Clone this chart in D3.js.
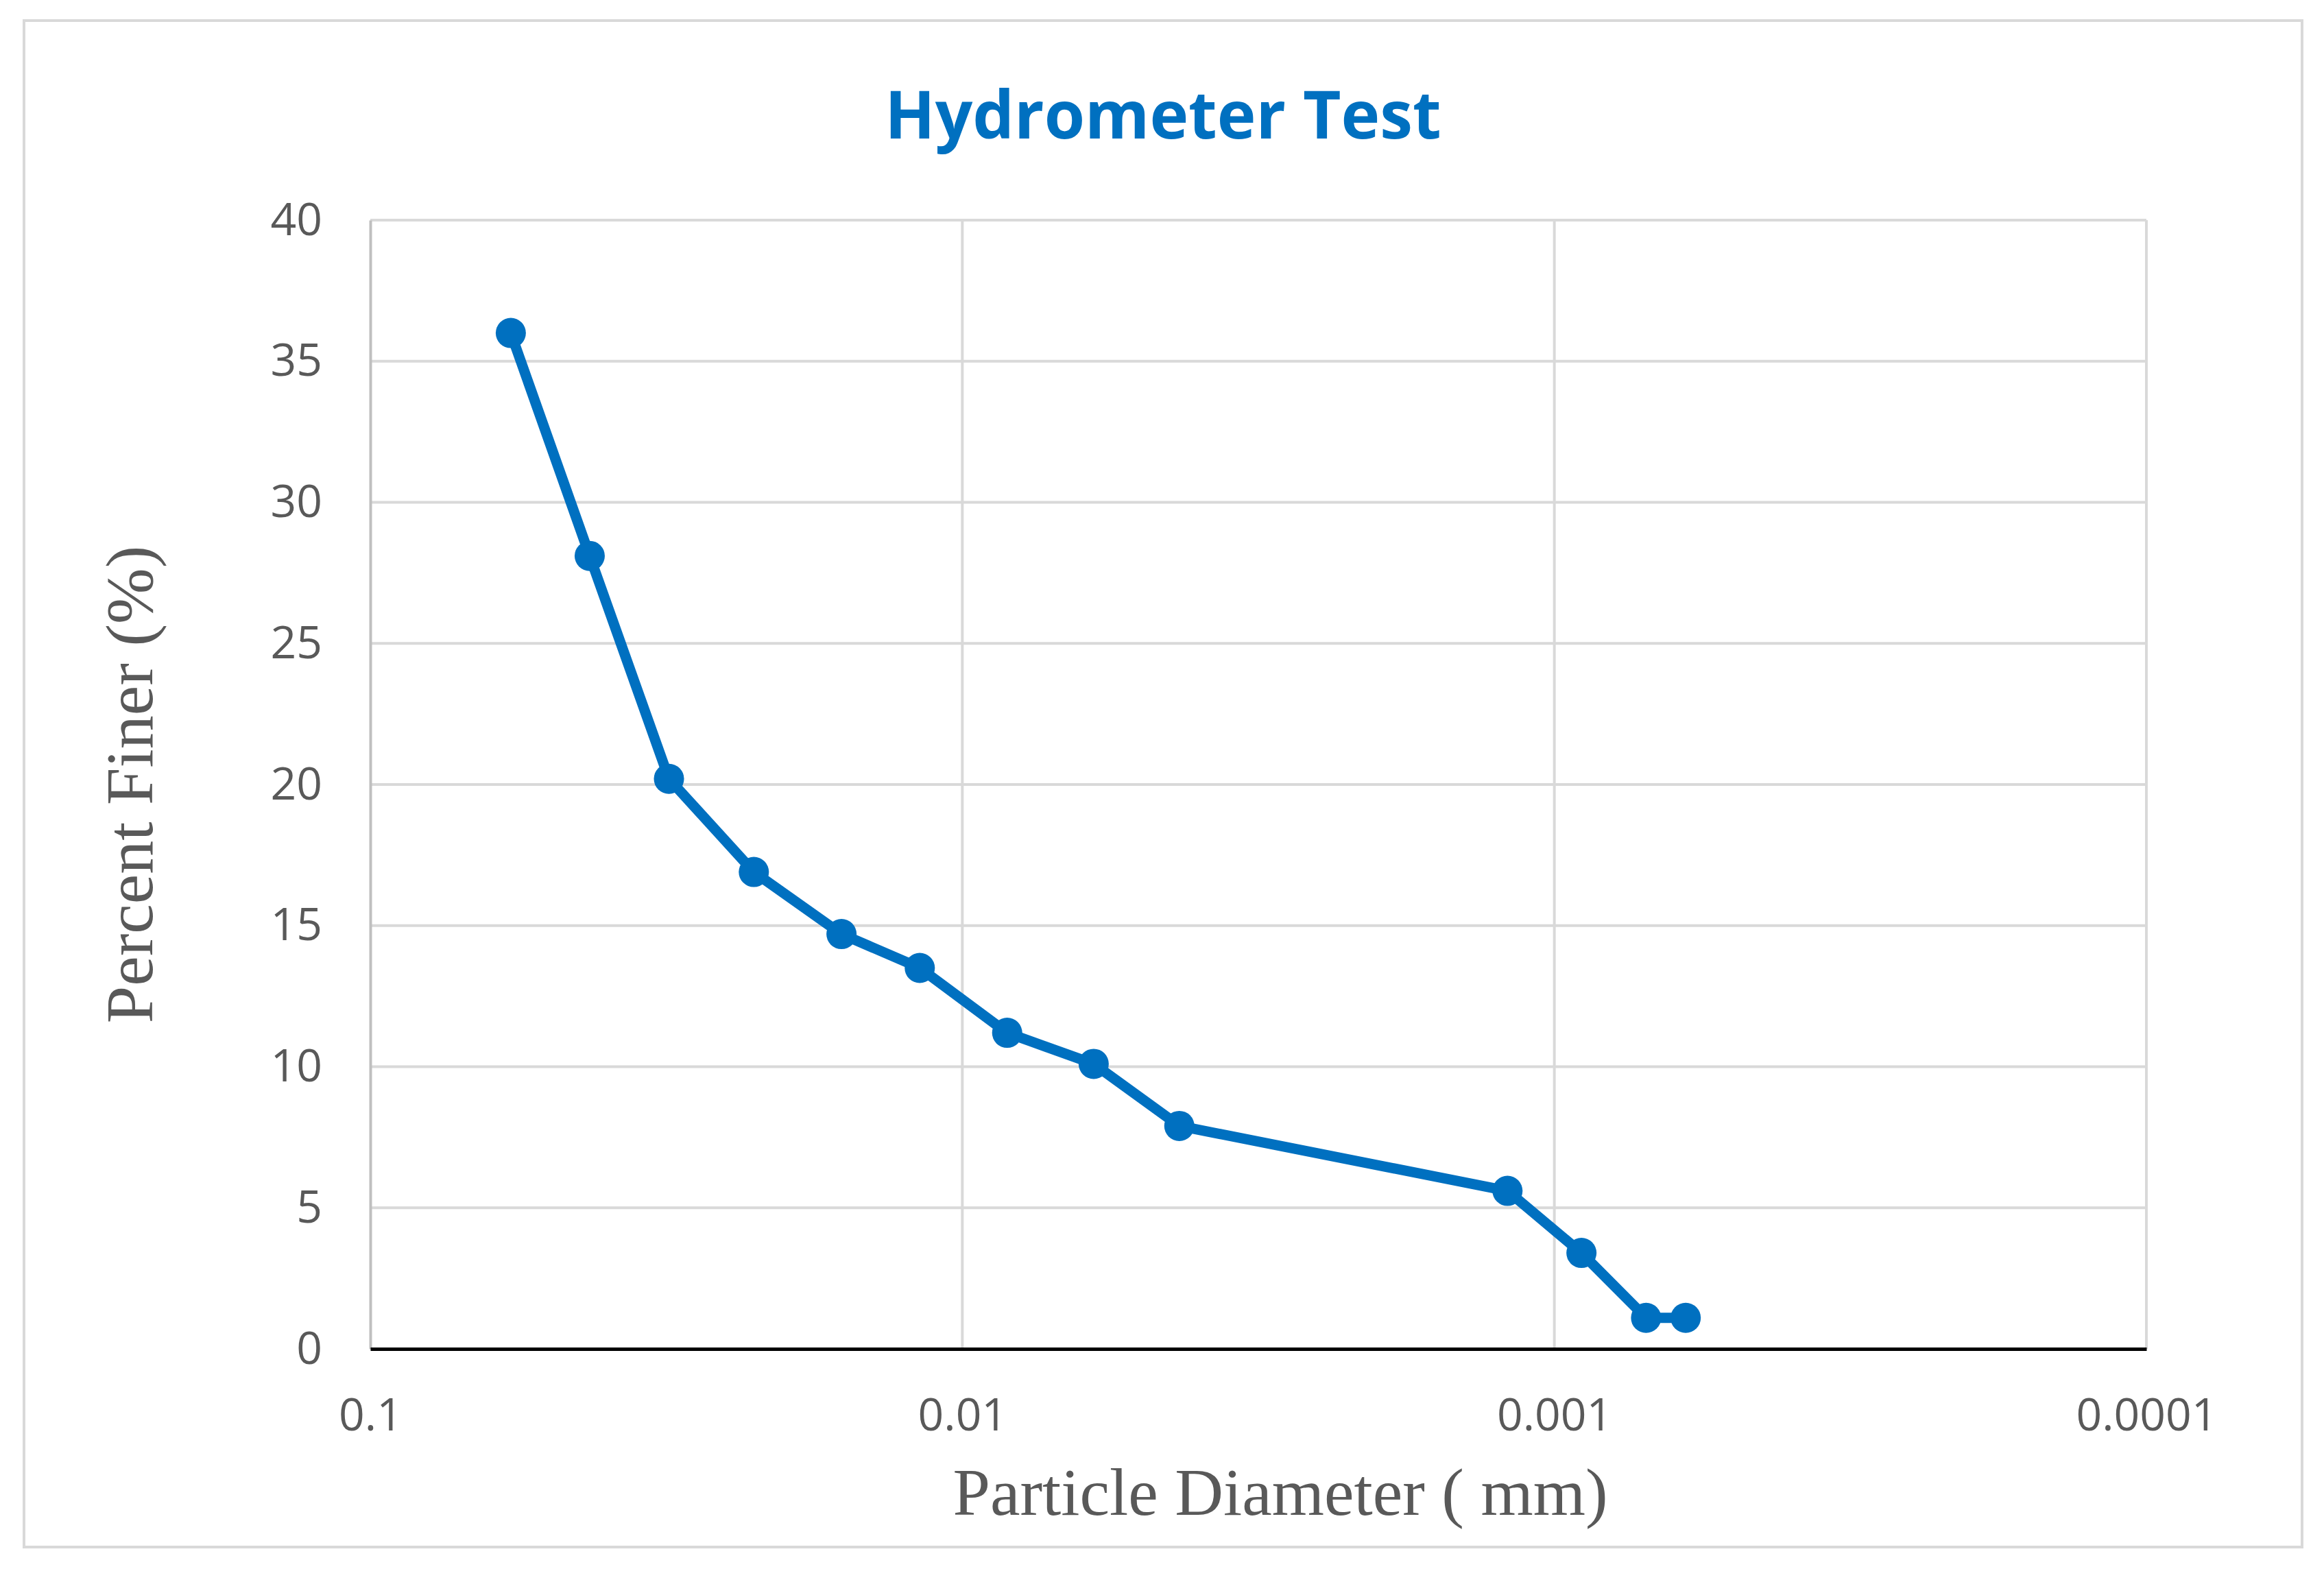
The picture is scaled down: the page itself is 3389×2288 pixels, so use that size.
<!DOCTYPE html>
<html>
<head>
<meta charset="utf-8">
<script src="https://cdn.jsdelivr.net/npm/d3@7"></script>
<style>
  body { margin: 0; background: #fff; }
  svg { display: block; }
</style>
</head>
<body>
<svg id="chart" width="3389" height="2288"></svg>
<script>
// hydrometer readings
var diameters = [0.0579, 0.0426, 0.0313, 0.0225, 0.0160, 0.0118, 0.0084, 0.0060, 0.0043, 0.0012, 0.0009, 0.0007, 0.0006];
var percentFiner = [36.0, 28.1, 20.2, 16.9, 14.7, 13.5, 11.2, 10.1, 7.9, 5.6, 3.4, 1.1, 1.1];
var xTicks = [0.1, 0.01, 0.001, 0.0001];
var xTickLabels = ["0.1", "0.01", "0.001", "0.0001"];
var yTicks = [0, 5, 10, 15, 20, 25, 30, 35, 40];

var title = "Hydrometer Test";
var xTitle = "Particle Diameter ( mm)";
var yTitle = "Percent Finer (%)";

var svg = d3.select("#chart");
const width = +svg.attr("width");
const height = +svg.attr("height");

const margin = { top: 321, right: 259, bottom: 321, left: 540 };
const blue = "#0070C0";
const grey = "#595959";

// chart border
svg.append("rect")
  .attr("x", 35).attr("y", 30)
  .attr("width", 3322).attr("height", 2226)
  .attr("fill", "#fff")
  .attr("stroke", "#d9d9d9")
  .attr("stroke-width", 4);

// reversed log axis: 0.1 on the left
var x = d3.scaleLog()
  .domain([0.1, 0.0001])
  .range([margin.left, width - margin.right]);

var y = d3.scaleLinear()
  .domain([0, 40])
  .range([height - margin.bottom, margin.top]);

// gridlines
svg.append("g")
  .selectAll("line")
  .data(yTicks.filter(d => d > 0))
  .join("line")
  .attr("x1", x(0.1)).attr("x2", x(0.0001))
  .attr("y1", d => y(d)).attr("y2", d => y(d))
  .attr("stroke", "#d9d9d9")
  .attr("stroke-width", 4);

svg.append("g")
  .selectAll("line")
  .data(xTicks.slice(1))
  .join("line")
  .attr("x1", d => x(d)).attr("x2", d => x(d))
  .attr("y1", y(0)).attr("y2", y(40))
  .attr("stroke", "#d9d9d9")
  .attr("stroke-width", 4);

// y axis
var yAxis = svg.append("g")
  .attr("transform", "translate(" + x(0.1) + ",0)")
  .call(d3.axisLeft(y).tickValues(yTicks).tickSize(0).tickPadding(70));
yAxis.select(".domain").attr("stroke", "#bfbfbf").attr("stroke-width", 4);
yAxis.selectAll("text")
  .attr("font-family", "'Open Sans', sans-serif")
  .attr("font-size", 66)
  .attr("fill", grey);

// x axis
var xAxis = svg.append("g")
  .attr("transform", "translate(0," + y(0) + ")")
  .call(d3.axisBottom(x).tickValues(xTicks)
    .tickFormat((d, i) => xTickLabels[i]).tickSize(0).tickPadding(72));
xAxis.select(".domain").attr("stroke", "#000").attr("stroke-width", 5);
xAxis.selectAll("text")
  .attr("font-family", "'Open Sans', sans-serif")
  .attr("font-size", 66)
  .attr("fill", grey);

// series
var points = diameters.map((d, i) => ({ d: d, p: percentFiner[i] }));

var line = d3.line()
  .x(d => x(d.d))
  .y(d => y(d.p));

svg.append("path")
  .datum(points)
  .attr("d", line)
  .attr("fill", "none")
  .attr("stroke", blue)
  .attr("stroke-width", 15)
  .attr("stroke-linejoin", "round");

svg.append("g")
  .selectAll("circle")
  .data(points)
  .join("circle")
  .attr("cx", d => x(d.d))
  .attr("cy", d => y(d.p))
  .attr("r", 22)
  .attr("fill", blue);

// titles
svg.append("text")
  .attr("x", 1696).attr("y", 202)
  .attr("text-anchor", "middle")
  .attr("font-family", "'Open Sans', sans-serif")
  .attr("font-weight", "bold")
  .attr("font-size", 96)
  .attr("fill", blue)
  .text(title);

svg.append("text")
  .attr("x", 1867).attr("y", 2209)
  .attr("text-anchor", "middle")
  .attr("font-family", "'Liberation Serif', serif")
  .attr("font-size", 98)
  .attr("fill", grey)
  .text(xTitle);

svg.append("text")
  .attr("transform", "translate(222," + ((y(0) + y(40)) / 2) + ") rotate(-90)")
  .attr("text-anchor", "middle")
  .attr("font-family", "'Liberation Serif', serif")
  .attr("font-size", 98)
  .attr("fill", grey)
  .text(yTitle);
</script>
</body>
</html>
